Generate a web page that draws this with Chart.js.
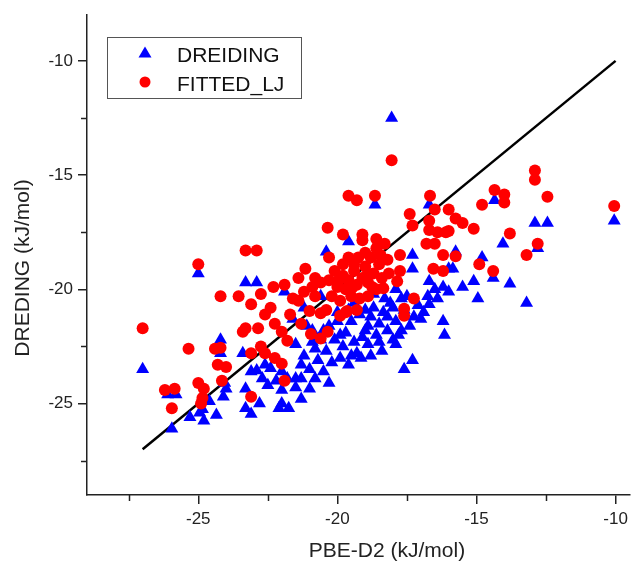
<!DOCTYPE html>
<html lang="en">
<head>
<meta charset="UTF-8">
<title>DREIDING vs PBE-D2</title>
<script src="https://cdn.jsdelivr.net/npm/chart.js"></script>
<style>
  html, body { margin: 0; padding: 0; background: #fff; overflow: hidden; }
</style>
</head>
<body>
<canvas id="scatterChart" width="637" height="565"></canvas>
<script>
// values (x = PBE-D2, y = force field), kJ/mol
const dreiding = [
  [-27.0,-23.5],[-26.1,-24.6],[-25.8,-24.6],[-25.95,-26.1],[-25.3,-25.6],[-25.0,-19.3],
  [-24.95,-25.4],[-24.85,-25.25],[-24.8,-25.75],[-24.6,-24.9],[-24.35,-25.5],
  [-24.2,-22.2],[-24.2,-22.8],[-24.1,-24.7],[-24.0,-24.35],[-24.05,-24.1],
  [-23.3,-19.7],[-22.9,-19.7],[-23.4,-22.8],[-23.3,-24.35],[-23.3,-25.2],[-23.1,-25.45],[-23.1,-23.6],
  [-22.9,-23.55],[-22.8,-25.0],[-22.7,-23.9],[-22.6,-23.3],[-22.5,-24.2],[-22.4,-23.45],
  [-22.2,-24.0],[-22.1,-25.2],[-22.0,-25.0],[-22.0,-23.6],[-22.0,-24.4],[-21.8,-23.9],[-21.75,-25.2],
  [-21.5,-22.4],[-21.5,-24.3],[-21.5,-23.9],[-21.3,-24.8],[-21.3,-23.3],[-21.3,-23.9],[-21.0,-24.35],
  [-21.0,-23.5],[-20.8,-22.6],[-20.9,-21.8],[-21.2,-22.9],[-20.7,-23.1],[-20.6,-22.2],[-20.5,-23.6],
  [-20.4,-22.7],[-20.3,-21.6],[-20.2,-23.2],[-20.1,-22.2],[-20.0,-21.4],[-19.9,-23.0],[-19.8,-22.5],
  [-19.7,-21.9],[-19.6,-23.3],[-19.5,-21.4],[-19.4,-22.3],[-19.3,-22.8],[-19.2,-21.1],[-19.15,-23.0],
  [-19.0,-21.8],[-18.9,-22.4],[-18.8,-21.2],[-18.7,-20.8],[-18.6,-22.0],[-18.5,-21.5],[-18.4,-22.7],
  [-18.35,-21.0],[-18.2,-21.8],[-18.1,-20.6],[-18.0,-22.2],[-17.9,-22.4],[-17.9,-21.4],[-17.7,-21.8],
  [-17.6,-20.9],[-17.6,-23.5],[-17.3,-23.1],[-17.5,-20.3],[-17.25,-21.2],[-17.1,-20.7],[-16.75,-20.3],
  [-16.7,-20.65],[-16.5,-20.0],[-16.2,-21.4],[-16.15,-22.0],
  [-20.8,-23.9],[-20.3,-24.1],[-19.9,-22.0],[-19.5,-22.9],[-19.1,-22.1],[-18.8,-22.9],[-18.5,-22.3],
  [-18.2,-21.2],[-17.8,-22.0],[-17.4,-21.6],[-17.0,-21.3],[-18.9,-21.6],[-19.6,-20.9],[-20.5,-21.8],
  [-20.9,-22.3],[-21.1,-21.6],[-18.0,-20.8],[-17.7,-20.4],[-16.9,-21.0],[-16.4,-20.4],
  [-20.6,-20.3],[-20.0,-21.0],[-19.4,-20.6],[-19.0,-20.9],[-18.7,-20.2],[-18.3,-20.4],[-17.9,-20.0],
  [-21.2,-20.8],[-21.6,-21.3],[-21.9,-20.1],
  [-20.4,-18.35],[-19.6,-17.9],[-18.65,-16.3],[-16.7,-16.3],[-18.05,-12.5],
  [-17.3,-18.5],[-17.3,-19.1],[-16.0,-19.1],[-16.7,-19.65],[-16.2,-19.9],[-16.0,-20.1],
  [-15.85,-19.1],[-15.75,-18.35],[-15.5,-19.9],[-15.1,-19.65],[-14.95,-20.4],[-14.8,-18.6],
  [-14.4,-19.5],[-14.35,-16.1],[-14.05,-18.0],[-13.8,-19.75],[-13.2,-20.6],[-12.9,-17.1],
  [-12.45,-17.1],[-12.8,-18.2],[-10.05,-17.0]
];

const fittedLJ = [
  [-27.0,-21.7],[-26.2,-24.4],[-25.85,-24.35],[-25.95,-25.2],[-25.35,-22.6],[-25.0,-18.9],
  [-25.0,-24.1],[-24.8,-24.35],[-24.85,-24.75],[-24.9,-25.0],[-24.4,-22.6],[-24.2,-22.55],
  [-24.3,-23.3],[-24.0,-23.4],[-24.15,-24.0],[-24.2,-20.3],[-23.3,-18.3],[-22.9,-18.3],
  [-23.55,-20.3],[-23.1,-20.65],[-22.75,-20.2],[-22.6,-21.1],[-22.4,-20.8],[-22.3,-19.9],[-21.9,-19.8],
  [-23.3,-21.7],[-23.4,-21.85],[-22.85,-21.7],[-22.75,-22.5],[-23.1,-22.8],[-22.6,-22.8],
  [-22.25,-23.0],[-22.0,-23.25],[-21.9,-24.0],[-23.1,-24.7],
  [-22.25,-21.5],[-22.0,-21.85],[-21.8,-22.25],[-21.7,-21.1],[-21.4,-20.5],[-21.3,-21.5],
  [-21.2,-20.1],[-21.0,-20.95],[-20.95,-21.95],[-21.4,-19.5],[-20.8,-19.5],[-21.15,-19.1],
  [-20.35,-21.85],[-20.6,-22.15],[-20.6,-21.05],[-19.9,-21.15],[-19.65,-20.95],
  [-20.35,-17.3],[-20.3,-18.6],[-19.8,-17.6],[-19.6,-15.9],[-19.3,-16.1],[-18.65,-15.9],
  [-16.67,-15.9],[-19.1,-17.6],[-19.1,-17.85],[-19.6,-18.6],[-18.05,-14.35],[-17.4,-16.7],[-17.3,-17.2],
  [-20.2,-20.3],[-20.0,-19.9],[-19.9,-20.5],[-19.8,-19.4],[-19.7,-20.0],[-19.6,-19.6],[-19.5,-20.3],
  [-19.4,-19.2],[-19.3,-19.8],[-19.2,-20.4],[-19.1,-19.5],[-19.0,-19.0],[-18.9,-19.7],[-18.8,-18.6],
  [-18.7,-19.3],[-18.6,-18.2],[-18.5,-18.9],[-18.4,-19.5],[-18.3,-18.0],[-18.2,-18.7],[-18.6,-17.8],
  [-19.0,-18.4],[-19.4,-18.9],[-19.8,-18.9],[-20.1,-19.2],[-20.6,-19.7],[-20.4,-20.9],[-19.7,-21.0],
  [-19.3,-20.9],[-18.9,-20.3],[-18.6,-20.0],[-20.9,-19.9],
  [-19.95,-19.6],[-19.45,-19.9],[-18.95,-19.4],[-18.75,-19.9],[-18.45,-18.5],[-18.15,-19.3],
  [-19.25,-18.6],[-20.3,-19.6],[-20.8,-20.3],[-21.6,-20.4],
  [-17.75,-18.5],[-17.75,-19.2],[-17.85,-19.65],[-18.35,-19.95],[-17.25,-20.4],[-17.6,-20.85],[-17.6,-21.15],
  [-16.7,-17.0],[-16.7,-17.4],[-16.4,-17.5],[-16.5,-16.5],[-16.1,-17.5],[-16.8,-18.0],[-16.5,-18.0],
  [-16.2,-18.5],[-16.55,-19.1],[-16.2,-19.2],
  [-16.0,-16.5],[-15.75,-16.9],[-15.5,-17.1],[-15.1,-17.35],[-16.0,-17.45],[-15.75,-18.55],
  [-14.8,-16.3],[-14.35,-15.65],[-14.0,-15.85],[-14.0,-16.2],[-13.8,-17.55],[-12.9,-14.8],
  [-12.9,-15.2],[-12.45,-15.95],[-10.05,-16.35],[-12.8,-18.0],[-13.2,-18.5],[-14.9,-18.9],[-14.4,-19.2]
];

// y = x reference line end points
const diagonal = [-27, -10];

const xMajor = [-25, -20, -15, -10];
const xMinor = [-27.5, -22.5, -17.5, -12.5];
const yMajor = [-25, -20, -15, -10];
const yMinor = [-27.5, -22.5, -17.5, -12.5];

const xTitle = 'PBE-D2 (kJ/mol)';
const yTitle = 'DREDING (kJ/mol)';

const FONT = "'Liberation Sans', Arial, sans-serif";
const INK = '#222';

const toPts = arr => arr.map(p => ({ x: p[0], y: p[1] }));

// minor ticks, axis titles and the boxed legend
const extras = {
  id: 'extras',
  afterDraw(chart) {
    const { ctx, chartArea, scales } = chart;
    ctx.save();
    ctx.strokeStyle = INK;
    ctx.lineWidth = 1.5;
    xMinor.forEach(v => {
      const px = Math.round(scales.x.getPixelForValue(v)) + 0.5;
      ctx.beginPath();
      ctx.moveTo(px, chartArea.bottom);
      ctx.lineTo(px, chartArea.bottom + 6);
      ctx.stroke();
    });
    yMinor.forEach(v => {
      const py = Math.round(scales.y.getPixelForValue(v)) + 0.5;
      ctx.beginPath();
      ctx.moveTo(chartArea.left, py);
      ctx.lineTo(chartArea.left - 6, py);
      ctx.stroke();
    });

    ctx.fillStyle = INK;
    ctx.font = '21px ' + FONT;
    ctx.textAlign = 'center';
    ctx.textBaseline = 'alphabetic';
    ctx.fillText(xTitle, 387, 557);
    ctx.save();
    ctx.translate(29, 268);
    ctx.rotate(-Math.PI / 2);
    ctx.fillText(yTitle, 0, 0);
    ctx.restore();

    // legend
    ctx.strokeStyle = '#555';
    ctx.lineWidth = 1;
    ctx.strokeRect(107.5, 37.5, 194, 61);
    const ds = chart.data.datasets;
    ctx.fillStyle = ds[1].backgroundColor;
    ctx.beginPath();
    ctx.moveTo(145, 46.5);
    ctx.lineTo(151.5, 57.5);
    ctx.lineTo(138.5, 57.5);
    ctx.closePath();
    ctx.fill();
    ctx.fillStyle = ds[2].backgroundColor;
    ctx.beginPath();
    ctx.arc(145, 82, 5.5, 0, Math.PI * 2);
    ctx.fill();
    ctx.fillStyle = '#111';
    ctx.textAlign = 'left';
    ctx.fillText(ds[1].label, 177, 62);
    ctx.fillText(ds[2].label, 177, 91);
    ctx.restore();
  }
};

const axisBase = {
  type: 'linear',
  grid: { drawOnChartArea: false, tickLength: 9, color: INK, lineWidth: 1.5 },
  border: { color: INK, width: 1.5 },
  ticks: { font: { size: 17, family: FONT }, color: INK, padding: 5 }
};

new Chart(document.getElementById('scatterChart'), {
  type: 'scatter',
  data: {
    datasets: [
      {
        type: 'line',
        label: 'y = x',
        data: diagonal.map(v => ({ x: v, y: v })),
        borderColor: '#000',
        borderWidth: 2.5,
        pointRadius: 0,
        order: 2
      },
      {
        label: 'DREIDING',
        data: toPts(dreiding),
        pointStyle: 'triangle',
        pointRadius: 7.5,
        backgroundColor: '#0000ff',
        borderColor: '#0000ff',
        borderWidth: 0,
        order: 1
      },
      {
        label: 'FITTED_LJ',
        data: toPts(fittedLJ),
        pointStyle: 'circle',
        pointRadius: 6,
        backgroundColor: '#ff0000',
        borderColor: '#ff0000',
        borderWidth: 0,
        order: 0
      }
    ]
  },
  options: {
    responsive: false,
    animation: false,
    layout: { padding: { top: 13, left: 0, right: 0, bottom: 0 } },
    plugins: { legend: { display: false }, tooltip: { enabled: false } },
    scales: {
      x: Object.assign({}, axisBase, {
        min: -29, max: -9.5,
        afterBuildTicks: s => { s.ticks = xMajor.map(v => ({ value: v })); },
        afterFit: s => { s.height = 70; }
      }),
      y: Object.assign({}, axisBase, {
        min: -29, max: -8,
        afterBuildTicks: s => { s.ticks = yMajor.map(v => ({ value: v })); },
        afterFit: s => { s.width = 87; }
      })
    }
  },
  plugins: [extras]
});
</script>
</body>
</html>
